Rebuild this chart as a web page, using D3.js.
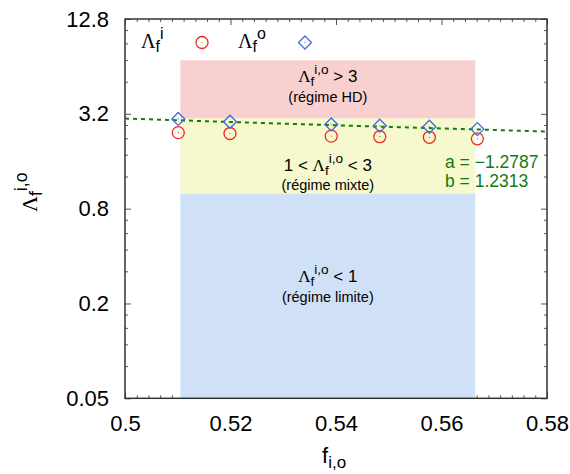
<!DOCTYPE html>
<html><head><meta charset="utf-8">
<script src="https://cdn.jsdelivr.net/npm/d3@7"></script>
<style>
html,body{margin:0;padding:0;background:#fff;}
svg{display:block;}
text{font-family:"Liberation Sans",Arial,sans-serif;}
</style></head>
<body>
<script>
// ---- data ----
const fValues = [0.5101, 0.5199, 0.5391, 0.5483, 0.5577, 0.5668];
const lambdaIn = [2.43, 2.40, 2.31, 2.29, 2.27, 2.22];   // Λ_f^i (circles)
const lambdaOut = [2.97, 2.85, 2.74, 2.69, 2.65, 2.56];  // Λ_f^o (diamonds)
const fitA = -1.2787, fitB = 1.2313;                      // Λ = b·f^a
const xTicks = [0.5, 0.52, 0.54, 0.56, 0.58];
const xTickLabels = ["0.5", "0.52", "0.54", "0.56", "0.58"];
const yTicks = [0.05, 0.2, 0.8, 3.2, 12.8];
const yTickLabels = ["0.05", "0.2", "0.8", "3.2", "12.8"];
const regionX = [0.5105, 0.5664];
const regionBounds = [0.05, 1, 3, 7];  // limite | mixte | HD
const regionNames = ["(régime limite)", "(régime mixte)", "(régime HD)"];

// ---- layout ----
const W = 570, H = 474;
const L = 125, R = 547, T = 19, B = 398.3;
const x = d3.scaleLinear().domain([0.5, 0.58]).range([L, R]);
const y = d3.scaleLog().base(4).domain([0.05, 12.8]).range([B, T]);

const svg = d3.select("body").append("svg").attr("width", W).attr("height", H);

// minor ticks
const xMinor = [];
for (let i = 0; i < xTicks.length - 1; i++)
  for (let k = 1; k < 9; k++) xMinor.push(xTicks[i] + k * (xTicks[i + 1] - xTicks[i]) / 9);
const yMinor = [];
for (let i = 0; i < yTicks.length - 1; i++)
  for (let k = 1; k <= 4; k++) yMinor.push(yTicks[i] * (1 + 0.6 * k));

const tickCol = "#555";
function styleAxis(g) {
  g.select(".domain").remove();
  g.selectAll(".tick line").attr("stroke", tickCol).attr("stroke-width", 1);
  g.selectAll(".tick text").attr("fill", "#000").style("font-size", "22px")
    .style("font-family", '"Liberation Sans",Arial,sans-serif');
}
const ticksG = svg.append("g");
// bottom
ticksG.append("g").attr("transform", `translate(0,${B})`)
  .call(d3.axisBottom(x).tickValues(xMinor).tickSize(-3).tickFormat(""))
  .call(styleAxis);
ticksG.append("g").attr("transform", `translate(0,${B})`)
  .call(d3.axisBottom(x).tickValues(xTicks).tickSize(-6).tickPadding(17)
    .tickFormat((d, i) => xTickLabels[i]))
  .call(styleAxis);
// top
ticksG.append("g").attr("transform", `translate(0,${T})`)
  .call(d3.axisTop(x).tickValues(xMinor).tickSize(-3).tickFormat("")).call(styleAxis);
ticksG.append("g").attr("transform", `translate(0,${T})`)
  .call(d3.axisTop(x).tickValues(xTicks).tickSize(-6).tickFormat("")).call(styleAxis);
// left
ticksG.append("g").attr("transform", `translate(${L},0)`)
  .call(d3.axisLeft(y).tickValues(yMinor).tickSize(-3).tickFormat("")).call(styleAxis);
ticksG.append("g").attr("transform", `translate(${L},0)`)
  .call(d3.axisLeft(y).tickValues(yTicks).tickSize(-6).tickPadding(16)
    .tickFormat((d, i) => yTickLabels[i]))
  .call(styleAxis);
// right
ticksG.append("g").attr("transform", `translate(${R},0)`)
  .call(d3.axisRight(y).tickValues(yMinor).tickSize(-3).tickFormat("")).call(styleAxis);
ticksG.append("g").attr("transform", `translate(${R},0)`)
  .call(d3.axisRight(y).tickValues(yTicks).tickSize(-6).tickFormat("")).call(styleAxis);
// remove empty tick texts
svg.selectAll(".tick text").filter(function () { return this.textContent === ""; }).remove();

// regions
const regionColors = ["#d0e1f7", "#f6f8cd", "#f8d0cf"];
for (let i = 0; i < 3; i++) {
  svg.append("rect")
    .attr("x", x(regionX[0])).attr("width", x(regionX[1]) - x(regionX[0]))
    .attr("y", y(regionBounds[i + 1])).attr("height", y(regionBounds[i]) - y(regionBounds[i + 1]))
    .attr("fill", regionColors[i]);
}

// border
svg.append("rect").attr("x", L).attr("y", T).attr("width", R - L).attr("height", B - T)
  .attr("fill", "none").attr("stroke", "#333").attr("stroke-width", 1.5);

// helper for Λ_f^{sup} text, optional trailing text
function lambdaText(sel, sup, size, after) {
  sel.append("tspan").text("Λ").style("font-family", '"Liberation Serif","Times New Roman",serif')
    .style("font-size", size + "px");
  sel.append("tspan").text("f").attr("dy", size * 0.22).style("font-size", (size * 0.8) + "px");
  sel.append("tspan").text(sup).attr("dy", -size * 0.67).style("font-size", (size * 0.8) + "px");
  if (after) sel.append("tspan").text(after).attr("dy", size * 0.45);
}

// region labels
const cx = (x(regionX[0]) + x(regionX[1])) / 2;
const fs = 17;
{
  const t = svg.append("text").attr("x", cx).attr("y", 82).attr("text-anchor", "middle").style("font-size", fs + "px");
  lambdaText(t, "i,o", fs, " > 3");
  svg.append("text").attr("x", cx).attr("y", 101.5).attr("text-anchor", "middle").style("font-size", "14.5px").text(regionNames[2]);
}
{
  const t = svg.append("text").attr("x", cx).attr("y", 171).attr("text-anchor", "middle").style("font-size", fs + "px");
  t.append("tspan").text("1 < ");
  lambdaText(t, "i,o", fs, " < 3");
  svg.append("text").attr("x", cx).attr("y", 190).attr("text-anchor", "middle").style("font-size", "14.5px").text(regionNames[1]);
}
{
  const t = svg.append("text").attr("x", cx).attr("y", 282).attr("text-anchor", "middle").style("font-size", fs + "px");
  lambdaText(t, "i,o", fs, " < 1");
  svg.append("text").attr("x", cx).attr("y", 302).attr("text-anchor", "middle").style("font-size", "14.5px").text(regionNames[0]);
}

// fit line
const fitCol = "#137a13";
const fitPts = d3.range(0, 101).map(i => 0.5 + i * 0.0008);
svg.append("path")
  .attr("d", d3.line().x(d => x(d)).y(d => y(fitB * Math.pow(d, fitA)))(fitPts))
  .attr("fill", "none").attr("stroke", fitCol).attr("stroke-width", 2).attr("stroke-dasharray", "4,4");
svg.append("text").attr("x", 445).attr("y", 168).style("font-size", "17.5px").attr("fill", fitCol)
  .text("a = \u22121.2787");
svg.append("text").attr("x", 445).attr("y", 187).style("font-size", "17.5px").attr("fill", fitCol)
  .text("b = 1.2313");

// points
const red = "#ee2a1e", blue = "#3d6be0";
function circle(g, px, py) {
  g.append("circle").attr("cx", px).attr("cy", py).attr("r", 6).attr("fill", "none").attr("stroke", red).attr("stroke-width", 1.3);
  g.append("circle").attr("cx", px).attr("cy", py).attr("r", 0.6).attr("fill", red);
}
function diamond(g, px, py) {
  const s = 6.5;
  g.append("path").attr("d", `M${px},${py - s}L${px + s},${py}L${px},${py + s}L${px - s},${py}Z`)
    .attr("fill", "none").attr("stroke", blue).attr("stroke-width", 1.3);
  g.append("circle").attr("cx", px).attr("cy", py).attr("r", 0.6).attr("fill", blue);
}
const ptsG = svg.append("g");
fValues.forEach((f, i) => circle(ptsG, x(f), y(lambdaIn[i])));
fValues.forEach((f, i) => diamond(ptsG, x(f), y(lambdaOut[i])));

// legend
{
  const t = svg.append("text").attr("x", 141).attr("y", 48).style("font-size", "20px");
  lambdaText(t, "i", 20);
  circle(svg, 202, 42.5);
  const t2 = svg.append("text").attr("x", 238).attr("y", 48).style("font-size", "20px");
  lambdaText(t2, "o", 20);
  diamond(svg, 305, 42.5);
}

// axis labels
{
  const t = svg.append("text").attr("x", 322).attr("y", 463).style("font-size", "22px");
  t.append("tspan").text("f");
  t.append("tspan").text("i,o").attr("dy", 5).style("font-size", "17px");
}
{
  const t = svg.append("text").attr("transform", "translate(37,212) rotate(-90)").style("font-size", "22px");
  lambdaText(t, "i,o", 22);
}
</script>
</body></html>
